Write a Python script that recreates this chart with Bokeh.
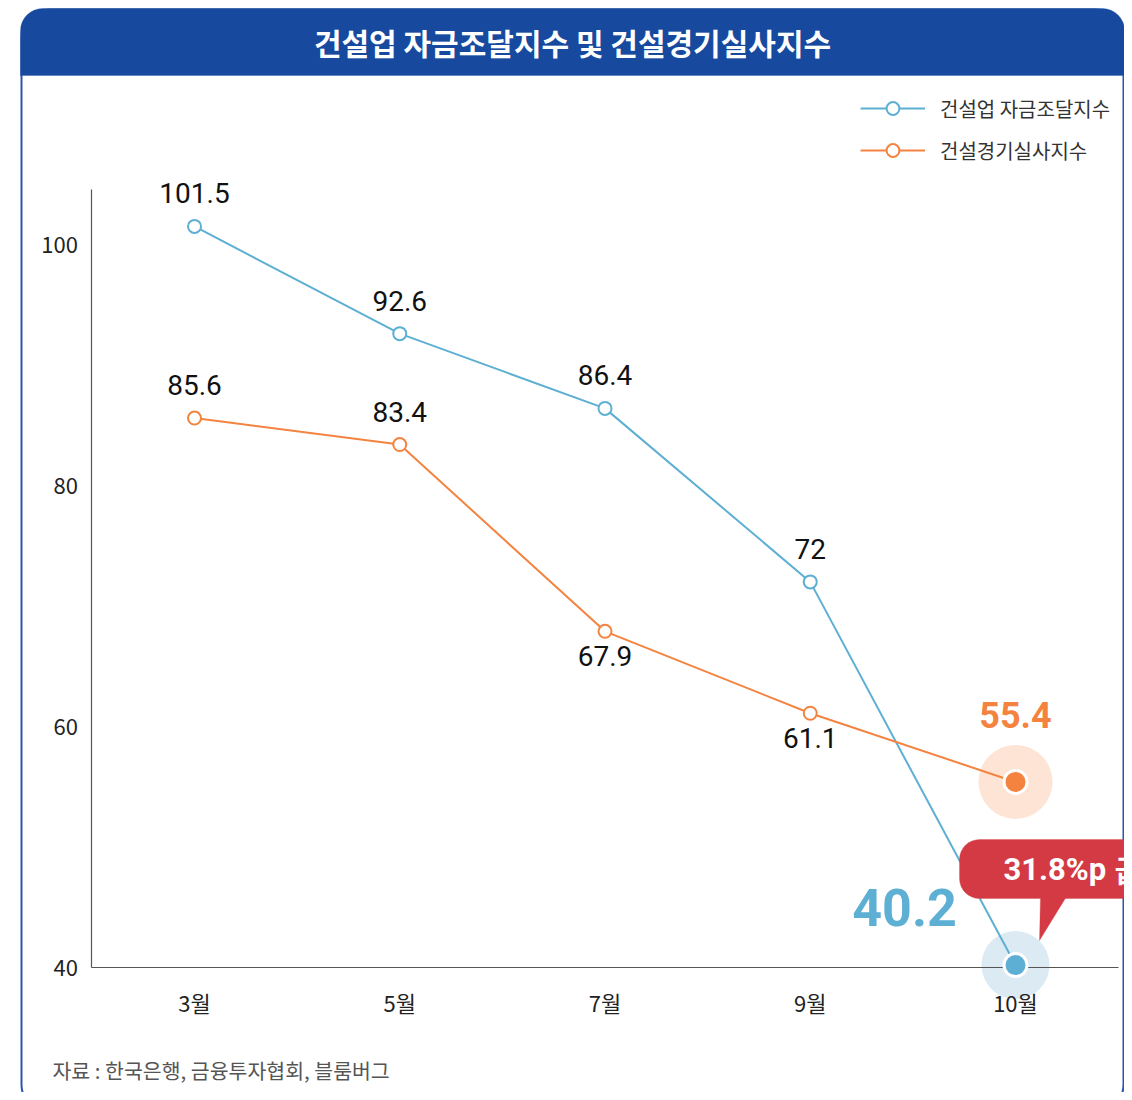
from bokeh.plotting import figure
from bokeh.models import (BoxAnnotation, PolyAnnotation, Label, Legend, LegendItem,
                          FixedTicker, ColumnDataSource, Range1d)
from bokeh.core.properties import value
from bokeh.embed import file_html
from bokeh.resources import INLINE

# ---------------- data ----------------
title_text = "건설업 자금조달지수 및 건설경기실사지수"
months = ["3월", "5월", "7월", "9월", "10월"]
funding_index = [101.5, 92.6, 86.4, 72, 40.2]   # 건설업 자금조달지수
bsi_index = [85.6, 83.4, 67.9, 61.1, 55.4]      # 건설경기실사지수
series_names = ["건설업 자금조달지수", "건설경기실사지수"]
y_ticks = [40, 60, 80, 100]
y_min, y_max = 40, 104.6
source_note = "자료 : 한국은행, 금융투자협회, 블룸버그"

# ---------------- style ----------------
BLUE = "#5DAFD3"
ORANGE = "#F4833F"
NAVY = "#174A9F"
RED = "#D43A43"
KR = "Noto Sans CJK KR"
NUM = "Roboto"

W, H = 1124, 1092
# layout of the plotting area in canvas pixels
X0_PX, X_STEP_PX = 194.0, 205.25        # first category centre, category spacing
Y40_PX, Y_UNIT_PX = 967.0, 12.05        # y=40 line, px per unit

x_start = -X0_PX / X_STEP_PX
x_end = (W - X0_PX) / X_STEP_PX
y_top = y_min + Y40_PX / Y_UNIT_PX
y_bottom = y_min - (H - Y40_PX) / Y_UNIT_PX


def sx(X):  # canvas x -> screen units
    return X


def sy(Y):  # canvas y (top-down) -> screen units (bottom-up)
    return H - Y


xs = list(range(len(months)))
fmt = lambda v: f"{v:g}"

p = figure(width=W, height=H, x_range=Range1d(x_start, x_end),
           y_range=Range1d(y_bottom, y_top), output_backend="svg", toolbar_location=None,
           min_border=0)
p.title.visible = False
p.outline_line_color = None
p.grid.visible = False
p.background_fill_color = "white"
p.border_fill_color = "white"

# axes (drawn at fixed positions inside the canvas)
p.yaxis.ticker = FixedTicker(ticks=y_ticks)
p.xaxis.ticker = FixedTicker(ticks=xs)
p.xaxis.major_label_overrides = {i: m for i, m in enumerate(months)}
p.yaxis.fixed_location = -0.5
p.xaxis.fixed_location = y_min
p.yaxis.bounds = (y_min, y_max)
p.xaxis.bounds = (-0.5, len(months) - 0.5)
for ax in (p.xaxis[0], p.yaxis[0]):
    ax.major_tick_line_color = None
    ax.minor_tick_line_color = None
    ax.axis_line_color = "#555555"
    ax.axis_line_width = 1.2
    ax.major_label_text_font = KR
    ax.major_label_text_font_size = "22px"
    ax.major_label_text_color = "#222222"
p.yaxis.major_label_standoff = 8
p.xaxis.major_label_standoff = 12

# ---------------- card decorations ----------------
card = BoxAnnotation(left=sx(21), right=sx(1123), top=sy(9), bottom=sy(1112),
                     left_units="screen", right_units="screen", top_units="screen",
                     bottom_units="screen", fill_alpha=0, line_color="#2A55A8",
                     line_alpha=1.0, line_width=2, border_radius=28, level="underlay")
p.add_layout(card)
bar = BoxAnnotation(left=sx(20), right=sx(1124), top=sy(8), bottom=sy(75),
                    left_units="screen", right_units="screen", top_units="screen",
                    bottom_units="screen", fill_color=NAVY, fill_alpha=1, line_color=NAVY,
                    border_radius=(22, 22, 0, 0))
p.add_layout(bar)
p.add_layout(Label(x=sx(572), y=sy(41), x_units="screen", y_units="screen", text=title_text,
                   text_align="center", text_baseline="middle", text_color="white",
                   text_font=KR, text_font_style="bold", text_font_size="30px"))
p.add_layout(Label(x=sx(52), y=sy(1069), x_units="screen", y_units="screen", text=source_note,
                   text_align="left", text_baseline="middle", text_color="#555555",
                   text_font=KR, text_font_size="20.5px"))

# ---------------- glyphs ----------------
last = xs[-1]
p.scatter([last], [bsi_index[-1]], size=74, fill_color="#FDE4D4", line_color=None)
p.scatter([last], [funding_index[-1]], size=68, fill_color="#DCEAF4", line_color=None)

l1 = p.line(xs, funding_index, line_color=BLUE, line_width=2)
l2 = p.line(xs, bsi_index, line_color=ORANGE, line_width=2)
s1 = p.scatter(xs[:-1], funding_index[:-1], size=13, fill_color="white", line_color=BLUE, line_width=2)
s2 = p.scatter(xs[:-1], bsi_index[:-1], size=13, fill_color="white", line_color=ORANGE, line_width=2)
p.scatter([last], [funding_index[-1]], size=23, fill_color=BLUE, line_color="white", line_width=3,
          level="annotation")
p.scatter([last], [bsi_index[-1]], size=23, fill_color=ORANGE, line_color="white", line_width=3,
          level="annotation")

# value labels
blue_src = ColumnDataSource(dict(x=xs[:-1], y=funding_index[:-1],
                                 t=[fmt(v) for v in funding_index[:-1]]))
p.text("x", "y", text="t", source=blue_src, y_offset=-33, text_align="center",
       text_baseline="middle", text_font=value(NUM), text_font_size="28px", text_color="#111111")
bsi_offsets = [-33, -33, 25, 25]
orange_src = ColumnDataSource(dict(x=xs[:-1], y=bsi_index[:-1],
                                   t=[fmt(v) for v in bsi_index[:-1]], off=bsi_offsets))
p.text("x", "y", text="t", source=orange_src, y_offset="off", text_align="center",
       text_baseline="middle", text_font=value(NUM), text_font_size="28px", text_color="#111111")

p.text([last], [bsi_index[-1]], text=[fmt(bsi_index[-1])], y_offset=-67, text_align="center",
       text_baseline="middle", text_font=value(NUM), text_font_style="bold",
       text_font_size="36px", text_color=ORANGE)
p.text([last], [funding_index[-1]], text=[fmt(funding_index[-1])], x_offset=-111, y_offset=-58,
       text_align="center", text_baseline="middle", text_font=value(NUM),
       text_font_style="bold", text_font_size="52px", text_color=BLUE)

# callout
drop = funding_index[-2] - funding_index[-1]
callout = BoxAnnotation(left=sx(959), right=sx(1170), top=sy(839), bottom=sy(898),
                        left_units="screen", right_units="screen", top_units="screen",
                        bottom_units="screen", fill_color=RED, fill_alpha=1, line_color=RED,
                        border_radius=20)
p.add_layout(callout)
p.add_layout(PolyAnnotation(xs=[sx(1040), sx(1066), sx(1039)], ys=[sy(896), sy(896), sy(940)],
                            xs_units="screen", ys_units="screen", fill_color=RED, fill_alpha=1,
                            line_color=RED))
p.add_layout(Label(x=sx(1003), y=sy(869), x_units="screen", y_units="screen",
                   text=f"{drop:.1f}%p 급락", text_align="left", text_baseline="middle",
                   text_color="white", text_font=NUM, text_font_style="bold", text_font_size="31px"))

# legend
legend = Legend(items=[LegendItem(label=series_names[0], renderers=[l1, s1]),
                       LegendItem(label=series_names[1], renderers=[l2, s2])],
                location=(sx(860), sy(166)), glyph_width=65, glyph_height=32, label_standoff=15,
                spacing=10, padding=0, margin=0, border_line_color=None,
                background_fill_alpha=0, label_text_font=KR, label_text_font_size="20px",
                label_text_color="#333333", label_height=20)
p.add_layout(legend)

open("out.html", "w").write(file_html(p, INLINE))
